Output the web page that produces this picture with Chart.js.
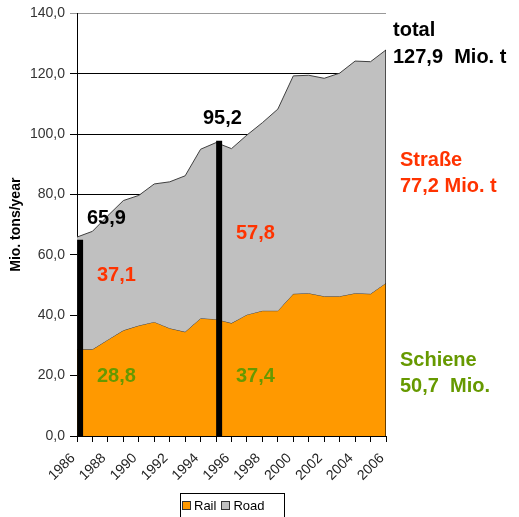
<!DOCTYPE html>
<html><head><meta charset="utf-8">
<script src="https://cdn.jsdelivr.net/npm/chart.js@4.4.1/dist/chart.umd.min.js"></script>
<style>
html,body{margin:0;padding:0;background:#fff;}
#wrap{position:relative;width:519px;height:517px;}
#legend{position:absolute;left:180px;top:493px;width:105px;height:30px;border:1px solid #000;box-sizing:border-box;font:13px "Liberation Sans",Arial,sans-serif;color:#000;display:flex;align-items:center;padding:0 0 6px 1px;}
.item{display:flex;align-items:center;margin-right:5px;}
.sw{width:7px;height:7px;border:1px solid #333;margin-right:3px;}
</style></head>
<body>
<div id="wrap"><canvas id="c" width="519" height="517"></canvas><div id="legend"></div></div>
<script>
const years = [1986,1987,1988,1989,1990,1991,1992,1993,1994,1995,1996,1997,1998,1999,2000,2001,2002,2003,2004,2005,2006];
const rail  = [28.8,28.7,31.9,35.0,36.6,37.8,35.7,34.5,39.0,38.7,37.4,40.2,41.5,41.5,47.1,47.3,46.3,46.3,47.3,47.1,50.7];
const road  = [37.1,39.1,41.1,43.0,43.1,45.7,48.5,51.7,56.0,58.5,57.8,59.5,62.3,66.8,72.2,72.2,72.2,73.9,76.9,76.9,77.2];
const markerYears  = [1986.2, 1995.2];
const markerValues = [65.0, 97.8];
const endYear = 2006;
const endTotal = 127.9;
const seriesNames = ['Rail','Road'];
const seriesColors = ['#FF9900','#C0C0C0'];

const roadTop = rail.map((r,i)=>+(r+road[i]).toFixed(1));
const FONT = '"Liberation Sans", Arial, sans-serif';

const labels = [
  {t:'65,9', c:'#000000', x:87, y:224},
  {t:'95,2', c:'#000000', x:203, y:124},
  {t:'37,1', c:'#FF3300', x:97, y:281},
  {t:'57,8', c:'#FF3300', x:236, y:239},
  {t:'28,8', c:'#669900', x:97, y:382},
  {t:'37,4', c:'#669900', x:236, y:382},
  {t:'total', c:'#000000', x:393, y:36},
  {t:'127,9  Mio. t', c:'#000000', x:393, y:63},
  {t:'Straße', c:'#FF3300', x:400, y:166},
  {t:'77,2 Mio. t', c:'#FF3300', x:400, y:192},
  {t:'Schiene', c:'#669900', x:400, y:366},
  {t:'50,7  Mio.', c:'#669900', x:400, y:392}
];

const textPlugin = {
  id:'texts',
  afterDraw(chart){
    const ctx = chart.ctx;
    ctx.save();
    ctx.font = 'bold 20px ' + FONT;
    ctx.textAlign = 'left';
    ctx.textBaseline = 'alphabetic';
    labels.forEach(l=>{ ctx.fillStyle = l.c; ctx.fillText(l.t, l.x, l.y); });
    ctx.restore();
  }
};

const datasets = [
  {label:seriesNames[0], data:years.map((y,i)=>({x:y,y:rail[i]})), fill:'origin',
   backgroundColor:seriesColors[0], borderColor:'#404040', borderWidth:1, pointRadius:0, tension:0, order:3},
  {label:seriesNames[1], data:years.map((y,i)=>({x:y,y:roadTop[i]})), fill:'-1',
   backgroundColor:seriesColors[1], borderColor:'#404040', borderWidth:1, pointRadius:0, tension:0, order:2}
];
markerYears.forEach((my,i)=>{
  datasets.push({label:'m'+i, data:[{x:my,y:0},{x:my,y:markerValues[i]}], borderColor:'#000', borderWidth:6,
    borderCapStyle:'butt', pointRadius:0, fill:false, order:1});
});
datasets.push({label:'end', data:[{x:endYear,y:0},{x:endYear,y:endTotal}], borderColor:'#000', borderWidth:1.2,
  pointRadius:0, fill:false, order:1});

new Chart(document.getElementById('c'), {
  type:'line',
  data:{datasets},
  options:{
    responsive:false, animation:false, devicePixelRatio:1,
    layout:{padding:{top:12,right:133,bottom:27,left:0}},
    plugins:{legend:{display:false}, tooltip:{enabled:false}},
    scales:{
      x:{type:'linear', min:1986, max:2006,
        grid:{drawOnChartArea:false, drawTicks:true, tickLength:6, color:'#000'},
        border:{color:'#000', width:1},
        ticks:{stepSize:1, autoSkip:false, maxRotation:45, minRotation:45, padding:8, labelOffset:-4,
          color:'#222', font:{family:FONT, size:14},
          callback:(v)=> (v%2===0 ? String(v) : '')},
        afterFit:(s)=>{s.height=54;}
      },
      y:{min:0, max:140,
        grid:{color:(c)=> c.tick && c.tick.value===140 ? '#999' : '#000', tickLength:7},
        border:{color:'#000', width:1},
        ticks:{stepSize:20, padding:5, color:'#333', font:{family:FONT, size:14},
          callback:(v)=> v.toFixed(1).replace('.',',')},
        title:{display:true, text:'Mio. tons/year', color:'#000', font:{family:FONT, size:14, weight:'bold'}, padding:{top:8,bottom:0}},
        afterFit:(s)=>{s.width=77;}
      }
    }
  },
  plugins:[textPlugin]
});

const lg = document.getElementById('legend');
seriesNames.forEach((n,i)=>{
  const it = document.createElement('div'); it.className='item';
  const sw = document.createElement('div'); sw.className='sw'; sw.style.background=seriesColors[i];
  const tx = document.createElement('span'); tx.textContent=n;
  it.appendChild(sw); it.appendChild(tx); lg.appendChild(it);
});
</script>
</body></html>
